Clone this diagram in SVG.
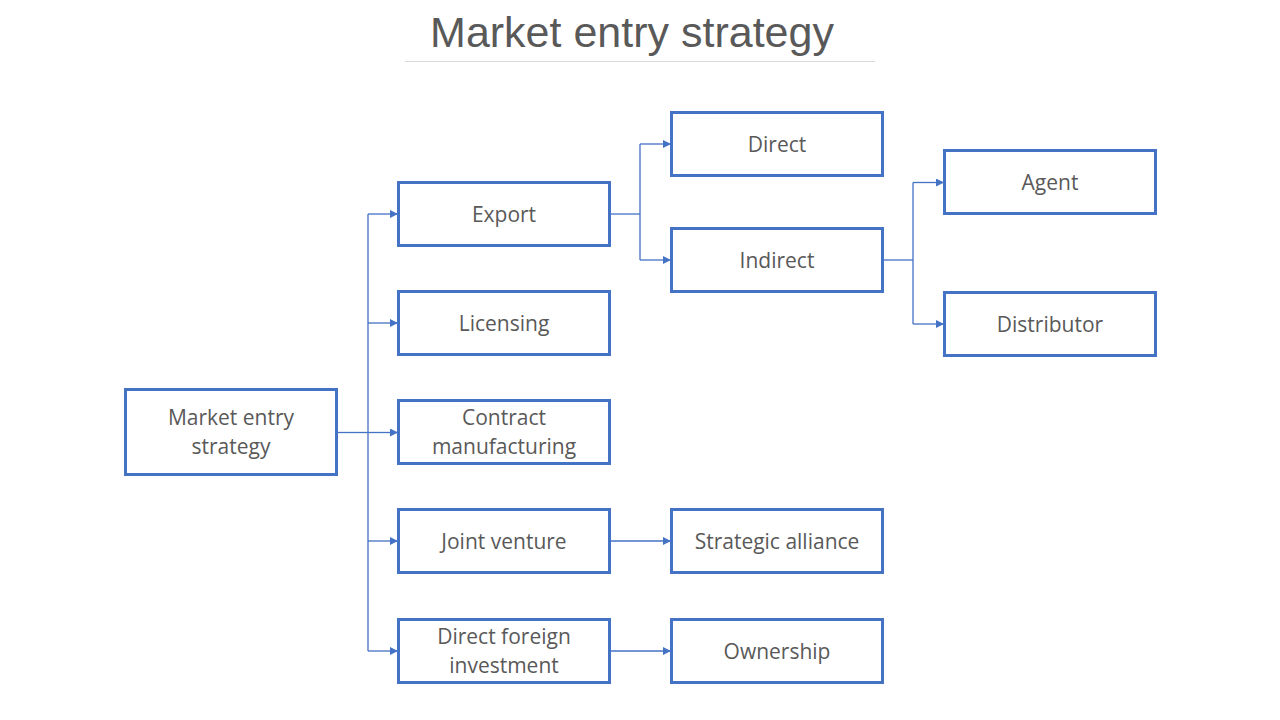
<svg xmlns="http://www.w3.org/2000/svg" width="1280" height="720" viewBox="0 0 1280 720">
<defs>
<marker id="arr" viewBox="0 0 10 10" refX="10" refY="5" markerWidth="8" markerHeight="8" markerUnits="userSpaceOnUse" orient="auto">
<path d="M0,0 L10,5 L0,10 z" fill="#4472C4"/>
</marker>
<style>
.box{fill:#fff;stroke:#4472C4;stroke-width:3}
.lbl{font-family:"Open Sans","Noto Sans","DejaVu Sans",sans-serif;font-size:21px;fill:#595959;text-anchor:middle}
.con{fill:none;stroke:#4472C4;stroke-width:1.3}
.title{font-family:"Liberation Sans",Arial,sans-serif;font-size:43px;fill:#595959;text-anchor:middle}
</style>
</defs>
<rect width="1280" height="720" fill="#fff"/>
<g id="title">
<text class="title" x="632" y="47">Market entry strategy</text>
<line x1="405" y1="61.5" x2="875" y2="61.5" stroke="#d9d9d9" stroke-width="1"/>
</g>
<g id="connectors">
<path class="con" d="M337,432.5 H368"/>
<path class="con" d="M368,214 V651"/>
<path class="con" d="M368,214 H398" marker-end="url(#arr)"/>
<path class="con" d="M368,323 H398" marker-end="url(#arr)"/>
<path class="con" d="M368,432.5 H398" marker-end="url(#arr)"/>
<path class="con" d="M368,541 H398" marker-end="url(#arr)"/>
<path class="con" d="M368,651 H398" marker-end="url(#arr)"/>
<path class="con" d="M610,214 H640"/>
<path class="con" d="M640,144 V260"/>
<path class="con" d="M640,144 H671" marker-end="url(#arr)"/>
<path class="con" d="M640,260 H671" marker-end="url(#arr)"/>
<path class="con" d="M883,260 H913"/>
<path class="con" d="M913,182.5 V324"/>
<path class="con" d="M913,182.5 H944" marker-end="url(#arr)"/>
<path class="con" d="M913,324 H944" marker-end="url(#arr)"/>
<path class="con" d="M610,541 H671" marker-end="url(#arr)"/>
<path class="con" d="M610,651 H671" marker-end="url(#arr)"/>
</g>
<g id="root"><rect class="box" x="125.5" y="389.5" width="211" height="85"/><text class="lbl" x="231" y="425">Market entry</text><text class="lbl" x="231" y="454">strategy</text></g>
<g id="export"><rect class="box" x="398.5" y="182.5" width="211" height="63"/><text class="lbl" x="504" y="221.5">Export</text></g>
<g id="licensing"><rect class="box" x="398.5" y="291.5" width="211" height="63"/><text class="lbl" x="504" y="330.5">Licensing</text></g>
<g id="contract"><rect class="box" x="398.5" y="400.5" width="211" height="63"/><text class="lbl" x="504" y="425">Contract</text><text class="lbl" x="504" y="454">manufacturing</text></g>
<g id="joint"><rect class="box" x="398.5" y="509.5" width="211" height="63"/><text class="lbl" x="504" y="548.5">Joint venture</text></g>
<g id="dfi"><rect class="box" x="398.5" y="619.5" width="211" height="63"/><text class="lbl" x="504" y="644">Direct foreign</text><text class="lbl" x="504" y="673">investment</text></g>
<g id="direct"><rect class="box" x="671.5" y="112.5" width="211" height="63"/><text class="lbl" x="777" y="151.5">Direct</text></g>
<g id="indirect"><rect class="box" x="671.5" y="228.5" width="211" height="63"/><text class="lbl" x="777" y="267.5">Indirect</text></g>
<g id="alliance"><rect class="box" x="671.5" y="509.5" width="211" height="63"/><text class="lbl" x="777" y="548.5">Strategic alliance</text></g>
<g id="ownership"><rect class="box" x="671.5" y="619.5" width="211" height="63"/><text class="lbl" x="777" y="658.5">Ownership</text></g>
<g id="agent"><rect class="box" x="944.5" y="150.5" width="211" height="63"/><text class="lbl" x="1050" y="189.5">Agent</text></g>
<g id="distributor"><rect class="box" x="944.5" y="292.5" width="211" height="63"/><text class="lbl" x="1050" y="331.5">Distributor</text></g>
</svg>
